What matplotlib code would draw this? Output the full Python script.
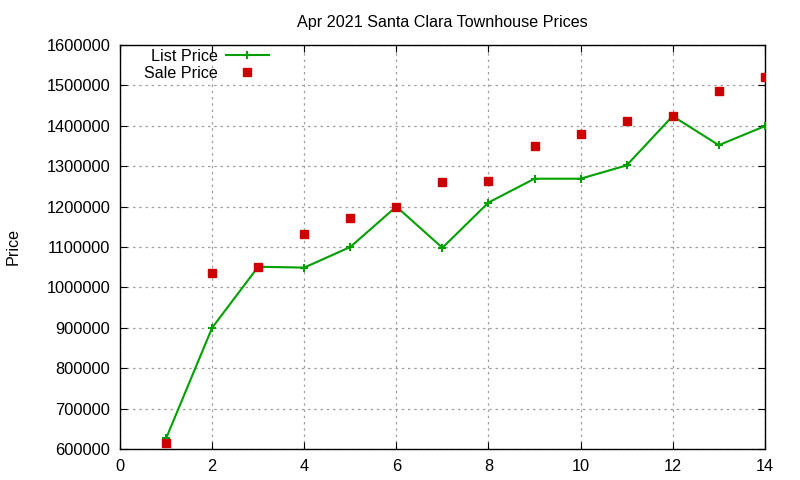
import matplotlib
matplotlib.use("Agg")
import matplotlib.pyplot as plt

plt.rcParams['font.family'] = ['Liberation Sans', 'DejaVu Sans']

x = [1, 2, 3, 4, 5, 6, 7, 8, 9, 10, 11, 12, 13, 14]
list_price = [626000, 900000, 1051000, 1049000, 1100000, 1200000, 1098000,
              1210000, 1269000, 1269000, 1302000, 1424000, 1352000, 1399000]
sale_price = [615000, 1036000, 1050000, 1131000, 1172000, 1200000, 1262000,
              1264000, 1351000, 1380000, 1413000, 1424000, 1487000, 1521000]
yticks = [600000, 700000, 800000, 900000, 1000000, 1100000, 1200000,
          1300000, 1400000, 1500000, 1600000]
xticks = [0, 2, 4, 6, 8, 10, 12, 14]

fig = plt.figure(figsize=(8, 4.8), dpi=100)
ax = fig.add_axes([0.15, 0.0646, 0.806, 0.8417])

ax.plot(x, list_price, color='#00a000', lw=1.5, marker='+', ms=6, mew=1.5,
        label='List Price', zorder=3)
ax.plot(x, sale_price, ls='none', color='#cc0000', marker='s', ms=5.5,
        label='Sale Price', zorder=4)

ax.set_xlim(0, 14)
ax.set_ylim(600000, 1600000)
ax.set_xticks(xticks)
ax.set_yticks(yticks)
ax.set_yticklabels([str(v) for v in yticks])
ax.tick_params(direction='in', top=True, right=True, labelsize=11.8, length=5, pad=7)
ax.grid(True, color='#a0a0a0', ls=(0, (2, 3)), lw=0.9)
for s in ax.spines.values():
    s.set_linewidth(1.0)

ax.set_title('Apr 2021 Santa Clara Townhouse Prices', fontsize=11.6, pad=13)
ax.set_ylabel('Price', fontsize=11.6)
ax.yaxis.set_label_coords(-0.154, 0.5)

leg = ax.legend(loc='upper left', bbox_to_anchor=(0.037, 0.99), frameon=False,
                markerfirst=False, fontsize=11.6, handlelength=2.7,
                borderaxespad=0.0, borderpad=0.0, labelspacing=0.1,
                handletextpad=0.5)
for t in leg.get_texts():
    t.set_ha('right')
leg._legend_box.align = 'right'

fig.savefig('out.png', dpi=100)
